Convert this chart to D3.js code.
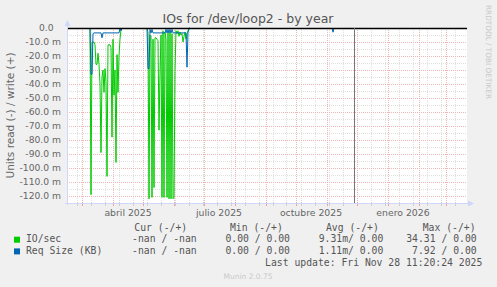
<!DOCTYPE html>
<html>
<head>
<meta charset="utf-8">
<script src="https://cdn.jsdelivr.net/npm/d3@7"></script>
<style>
  html, body { margin: 0; padding: 0; background: #f0f0f0; }
  svg { display: block; }
  text { font-family: "DejaVu Sans", sans-serif; fill: #666; }
  text.mono { font-family: "DejaVu Sans Mono", monospace; fill: #555; }
</style>
</head>
<body>
<div id="chart"></div>
<script>
// window shown: 400 days, munin year view
var rangeStart = "2025-02-14T12:00:00Z",
  rangeEnd = "2026-03-21T12:00:00Z",
  lastUpdate = "2025-11-28T11:20:24Z";

// daily samples, read side (negative), in milli units
var burst1Start = "2025-03-09T12:00:00Z";
var burst1IO = [0, -119, -10, -10, -10, -12, -26, -26, -18, -26, -40, -89, -35, -30, -46, -29, -38,
  -106, -12, -12, -12, -14, -78, -8, -48, -30, -96, -19, -46, -20, -8, -1, 0];
var burst1Req = [0, -33, -33, -4, -3.5, -3.5, -3.5, -3.5, -3.5, -3.5, -3.5, -3.5, -7, -3.5, -3.5, -3.5,
  -3.5, -3.5, -3.5, -3.5, -3.5, -3.5, -3.5, -3.5, -3.5, -3.5, -3.5, -3.5, -3.5, -3.5, 0, -2, 0];

var burst2Start = "2025-05-05T12:00:00Z";
var burst2IO = [0, -3, -122, -5, -6, -121, -8, -114, -7, -7, -8, -9, -73, -33, -5, -121, -2, -121, -3,
  -8, -121, -3, -122, -3, -122, -4, -122, -121, -31, -2, -4, -2, -6, -3, -5, -4, -10, -6, -3, -8, -4,
  -2, -1, 0];
var burst2Req = [0, -29, -29, -1, -3.5, -1, -3.5, -3.5, -3.5, -3.5, -3.5, -3.5, -3.5, -3.5, -3.5, -3.5,
  -3.5, -3.5, -3.5, -1, -3.5, -1, -3.5, -1, -3.5, -1, -3.5, -3.5, -3.5, -3.5, -3.5, -3.5, -3.5, -3.5,
  -3.5, -3.5, -3.5, -3.5, -3.5, -3.5, -28, -3, 0, 0];

var blipStart = "2025-11-06T12:00:00Z";
var blipReq = [0, -3, 0];

var yTicks = [0, -10, -20, -30, -40, -50, -60, -70, -80, -90, -100, -110, -120];
var monthLabels = ["abril 2025", "julio 2025", "octubre 2025", "enero 2026"];
var monthLabelDates = ["2025-04-01", "2025-07-01", "2025-10-01", "2026-01-01"];

var legendHeaders = ["Cur (-/+)", "Min (-/+)", "Avg (-/+)", "Max (-/+)"];
var legendNames = ["IO/sec", "Req Size (KB)"];
var legendColors = ["#00cc00", "#0066b3"];
var legendCur = ["-nan / -nan", "-nan / -nan"];
var legendMin = ["0.00 / 0.00", "0.00 / 0.00"];
var legendAvg = ["9.31m/ 0.00", "1.11m/ 0.00"];
var legendMax = ["34.31 / 0.00", "7.92 / 0.00"];

var Graph = function() {
  "use strict";

  var width = 497, height = 287,
    pLeft = 67, pRight = 467, pTop = 28, pBottom = 203;

  var svg = d3.select('#chart')
    .append('svg')
    .attr('width', width)
    .attr('height', height);

  var x = d3.scaleUtc()
    .domain([new Date(rangeStart), new Date(rangeEnd)])
    .range([pLeft, pRight]);

  var y = d3.scaleLinear()
    .domain([-125, 0])
    .range([pBottom, pTop]);

  var crisp = function(v) { return Math.round(v) + 0.5; };

  // canvas
  svg.append('rect')
    .attr('x', pLeft).attr('y', pTop)
    .attr('width', pRight - pLeft).attr('height', pBottom - pTop)
    .attr('fill', '#fff');

  // grid
  var minorX = d3.utcMonday.range(new Date("2025-02-24"), x.domain()[1], 2);
  var majorX = d3.utcMonth.range(x.domain()[0], x.domain()[1]);
  var minorY = d3.range(-115, 0, 10);

  var vLines = function(cls, data, color, y1, y2, dash) {
    svg.selectAll('.' + cls).data(data).enter().append('line')
      .attr('class', cls)
      .attr('x1', function(d) { return crisp(x(d)); })
      .attr('x2', function(d) { return crisp(x(d)); })
      .attr('y1', y1).attr('y2', y2)
      .attr('stroke', color)
      .attr('stroke-dasharray', dash);
  };
  var hLines = function(cls, data, color) {
    svg.selectAll('.' + cls).data(data).enter().append('line')
      .attr('class', cls)
      .attr('x1', pLeft).attr('x2', pRight)
      .attr('y1', function(d) { return crisp(y(d)); })
      .attr('y2', function(d) { return crisp(y(d)); })
      .attr('stroke', color)
      .attr('stroke-dasharray', '1,1');
  };

  vLines('vmin', minorX, '#e0e0e0', pTop, pBottom, '1,1');
  hLines('hmin', minorY, '#e0e0e0');
  vLines('vmaj', majorX, '#f0b6b6', pTop, pBottom, '1,1');
  hLines('hmaj', yTicks, '#f0b6b6');

  // x ticks under the axis
  vLines('tmin', minorX, '#cccccc', pBottom - 1, pBottom + 3, null);
  vLines('tmaj', majorX, '#eca0a0', pBottom - 1, pBottom + 3, null);

  // series
  var toPoints = function(start, values) {
    var t0 = new Date(start);
    return values.map(function(v, i) {
      return { date: d3.utcDay.offset(t0, i), v: v };
    });
  };
  var line = d3.line()
    .x(function(d) { return x(d.date); })
    .y(function(d) { return y(d.v); });

  var ioSeries = [toPoints(burst1Start, burst1IO), toPoints(burst2Start, burst2IO)];
  var reqSeries = [toPoints(burst1Start, burst1Req), toPoints(burst2Start, burst2Req),
    toPoints(blipStart, blipReq)];

  svg.selectAll('.io').data(ioSeries).enter().append('path')
    .attr('class', 'io')
    .attr('d', line)
    .attr('fill', 'none').attr('stroke', legendColors[0]).attr('stroke-width', 1);
  svg.selectAll('.req').data(reqSeries).enter().append('path')
    .attr('class', 'req')
    .attr('d', line)
    .attr('fill', 'none').attr('stroke', legendColors[1]).attr('stroke-width', 1);

  // zero rule and "now" rule
  svg.append('line')
    .attr('x1', pLeft).attr('x2', pRight)
    .attr('y1', y(0) + 0.5).attr('y2', y(0) + 0.5)
    .attr('stroke', '#000').attr('stroke-width', 1.3);
  var now = new Date(lastUpdate);
  svg.append('line')
    .attr('x1', crisp(x(now))).attr('x2', crisp(x(now)))
    .attr('y1', pTop).attr('y2', pBottom)
    .attr('stroke', '#777').attr('stroke-width', 1);

  // axes lines and arrows
  var axisColor = '#cfd6f8';
  svg.append('line')
    .attr('x1', pLeft + 0.5).attr('x2', pLeft + 0.5)
    .attr('y1', pTop - 3).attr('y2', pBottom + 2)
    .attr('stroke', axisColor);
  svg.append('line')
    .attr('x1', pLeft - 2).attr('x2', pRight + 3)
    .attr('y1', pBottom + 0.5).attr('y2', pBottom + 0.5)
    .attr('stroke', axisColor);
  svg.append('path')
    .attr('d', 'M' + (pLeft - 2.5) + ',' + (pTop - 2) + 'L' + (pLeft + 0.5) + ',' + (pTop - 8) +
      'L' + (pLeft + 3.5) + ',' + (pTop - 2) + 'Z')
    .attr('fill', axisColor);
  svg.append('path')
    .attr('d', 'M' + (pRight + 1) + ',' + (pBottom - 2.5) + 'L' + (pRight + 7) + ',' + (pBottom + 0.5) +
      'L' + (pRight + 1) + ',' + (pBottom + 3.5) + 'Z')
    .attr('fill', axisColor);

  // y tick labels
  var yAxis = svg.append('g')
    .attr('transform', 'translate(61,0)')
    .call(d3.axisLeft(y).tickValues(yTicks).tickSize(0).tickPadding(0)
      .tickFormat(function(d) { return d === 0 ? "0.0" : d.toFixed(1) + " m"; }));
  yAxis.select('.domain').remove();
  yAxis.attr('font-family', null).attr('font-size', 9.2);
  yAxis.selectAll('text')
    .attr('x', function(d) { return d === 0 ? -7.5 : 0; });

  // x labels, centred inside their month
  svg.selectAll('.xlab').data(monthLabels).enter().append('text')
    .attr('class', 'xlab')
    .attr('x', function(d, i) {
      var t = new Date(monthLabelDates[i] + "T00:00:00Z");
      return x(new Date(+t + 15.5 * 864e5));
    })
    .attr('y', 216)
    .attr('text-anchor', 'middle')
    .attr('font-size', 9.3)
    .text(function(d) { return d; });

  // titles
  svg.append('text')
    .attr('x', 248).attr('y', 22.5)
    .attr('text-anchor', 'middle')
    .attr('font-size', 12.5)
    .style('fill', '#555')
    .text('IOs for /dev/loop2 - by year');

  svg.append('text')
    .attr('transform', 'translate(13.5,115.5) rotate(-90)')
    .attr('text-anchor', 'middle')
    .attr('font-size', 10.5)
    .text('Units read (-) / write (+)');

  svg.append('text')
    .attr('transform', 'translate(485.5,5) rotate(90)')
    .attr('font-size', 7.3)
    .style('fill', '#c8c8c8')
    .text('RRDTOOL / TOBI OETIKER');

  // legend
  var monoSize = 9.75;
  var headerX = [134.3, 230, 326, 422.7];
  var valueEnd = [196.7, 290, 383.3, 476.7];
  var rowY = [242.2, 253.9];

  svg.selectAll('.lh').data(legendHeaders).enter().append('text')
    .attr('class', 'mono lh')
    .attr('x', function(d, i) { return headerX[i]; })
    .attr('y', 230.5)
    .attr('font-size', monoSize)
    .attr('xml:space', 'preserve')
    .text(function(d) { return d; });

  legendNames.forEach(function(name, r) {
    svg.append('rect')
      .attr('x', 14).attr('y', rowY[r] - 5.5)
      .attr('width', 6).attr('height', 6)
      .attr('fill', legendColors[r]);
    svg.append('text')
      .attr('class', 'mono')
      .attr('x', 26).attr('y', rowY[r])
      .attr('font-size', monoSize)
      .text(name);
    [legendCur[r], legendMin[r], legendAvg[r], legendMax[r]].forEach(function(v, c) {
      svg.append('text')
        .attr('class', 'mono')
        .attr('x', valueEnd[c]).attr('y', rowY[r])
        .attr('text-anchor', 'end')
        .attr('font-size', monoSize)
        .attr('xml:space', 'preserve')
        .text(v);
    });
  });

  svg.append('text')
    .attr('class', 'mono')
    .attr('x', 482.3).attr('y', 265.6)
    .attr('text-anchor', 'end')
    .attr('font-size', monoSize)
    .text('Last update: Fri Nov 28 11:20:24 2025');

  svg.append('text')
    .attr('x', 248).attr('y', 279)
    .attr('text-anchor', 'middle')
    .attr('font-size', 7.5)
    .style('fill', '#cacaca')
    .text('Munin 2.0.75');
};

Graph();
</script>
</body>
</html>
